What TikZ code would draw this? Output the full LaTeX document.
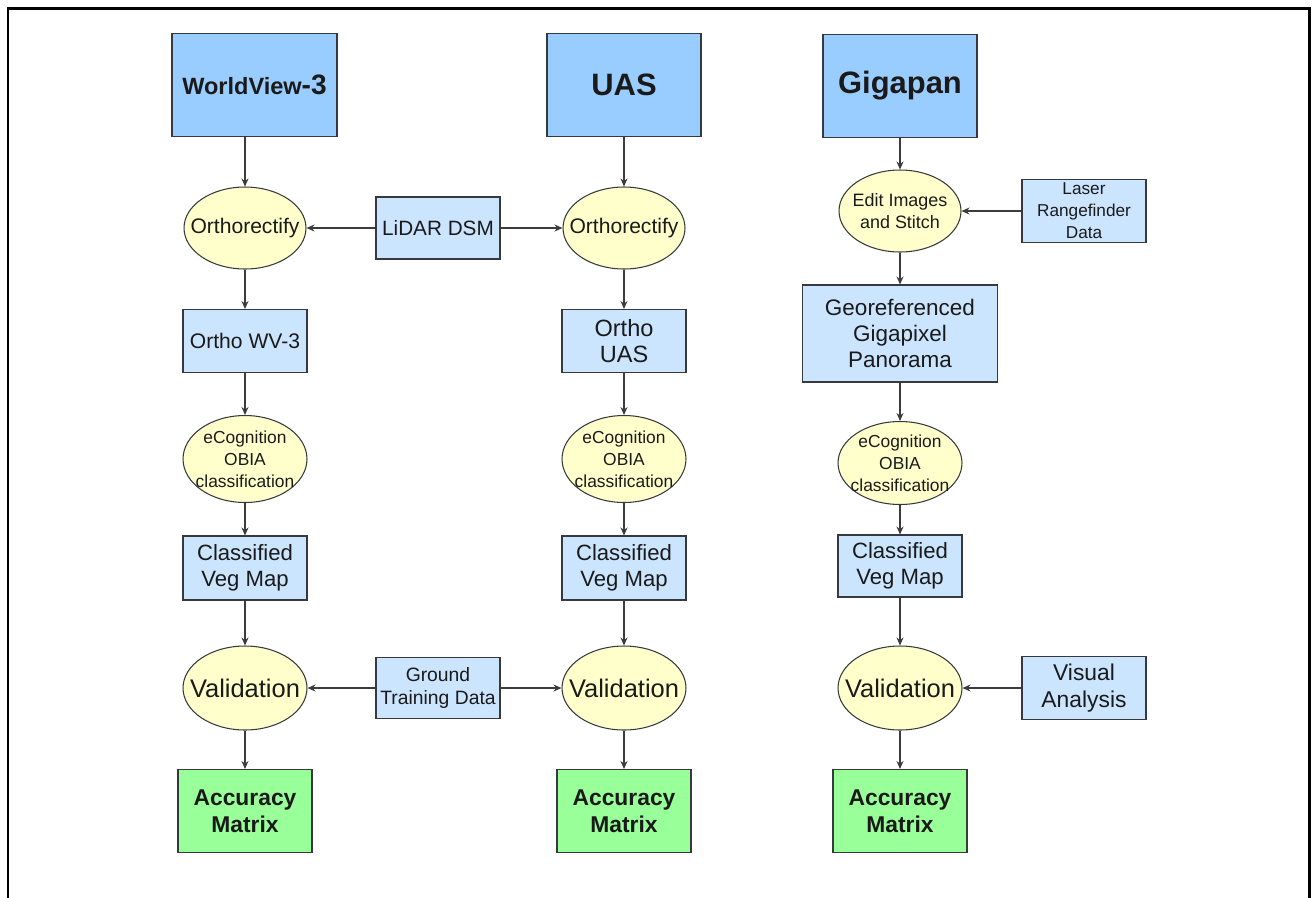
\documentclass[tikz,border=0pt]{standalone}
\usepackage{fontspec}
\setmainfont{Liberation Sans}
\usepackage{tikz}
\usetikzlibrary{arrows.meta,shapes.geometric}
\definecolor{srcBlue}{HTML}{99CCFF}
\definecolor{dataBlue}{HTML}{CCE5FF}
\definecolor{stepYellow}{HTML}{FFFFCC}
\definecolor{accGreen}{HTML}{99FF99}
\definecolor{boxLine}{HTML}{36393D}
\definecolor{flowGrey}{HTML}{3C3C3C}
\definecolor{txtDark}{HTML}{1A1A1A}
\newcommand{\fs}[2]{\fontsize{#1}{#2}\selectfont}
\tikzset{
  srcbox/.style={rectangle, draw=boxLine, fill=srcBlue, line width=0.6pt, align=center, text=txtDark, font=\bfseries\fs{17.6}{20}, minimum width=3.08cm, minimum height=2.06cm, inner sep=0pt},
  databox/.style={rectangle, draw=boxLine, fill=dataBlue, line width=0.6pt, align=center, text=txtDark, minimum width=2.48cm, minimum height=1.26cm, inner sep=0pt},
  stepell/.style={ellipse, draw=boxLine, fill=stepYellow, line width=0.6pt, align=center, text=txtDark, minimum width=2.44cm, minimum height=1.64cm, inner sep=-1cm},
  accbox/.style={rectangle, draw=boxLine, fill=accGreen, line width=0.6pt, align=center, text=txtDark, font=\bfseries\fs{13}{15.5}, minimum width=2.68cm, minimum height=1.66cm, inner sep=0pt},
  flowarrow/.style={-{Stealth[length=1.6mm,width=1.4mm]}, line width=0.7pt, draw=flowGrey},
}

\begin{document}
\begin{tikzpicture}[x=0.02cm,y=-0.02cm]
  \useasboundingbox (0,0) rectangle (1312,897);
  \draw[line width=1.7pt] (8,905) -- (8,8) -- (1309,8) -- (1309,905);

  % sources
  \node[srcbox, minimum width=3.3cm, font=\bfseries\fs{13.4}{16}] (wv) at (254.5,85) {WorldView{\fs{16}{19}-3}};
  \node[srcbox] (uas) at (624,85) {UAS};
  \node[srcbox] (giga) at (900,86) {Gigapan};

  % row 1
  \node[stepell, font=\fs{12}{14}] (or1) at (245,228) {Orthorectify};
  \node[databox, minimum height=1.24cm, font=\fs{11.8}{14}] (lidar) at (438,228) {LiDAR DSM};
  \node[stepell, font=\fs{12}{14}] (or2) at (624,228) {Orthorectify};
  \node[stepell, font=\fs{10.2}{12.5}] (edit) at (900,211) {Edit Images\\and Stitch};
  \node[databox, font=\fs{9.8}{12.5}] (laser) at (1084,211) {Laser\\Rangefinder\\Data};

  % row 2
  \node[databox, minimum height=1.26cm, font=\fs{12}{14}] (ow) at (245,341) {Ortho WV-3};
  \node[databox, minimum height=1.26cm, font=\fs{13.4}{14.8}] (ou) at (624,341) {Ortho\\UAS};
  \node[databox, minimum width=3.9cm, minimum height=1.94cm, font=\fs{12.8}{15}] (geo) at (900,333.5) {Georeferenced\\Gigapixel\\Panorama};

  % row 3
  \node[stepell, minimum width=2.48cm, minimum height=1.74cm, font=\fs{9.9}{12.5}] (ec1) at (245,459) {eCognition\\OBIA\\classification};
  \node[stepell, minimum width=2.48cm, minimum height=1.74cm, font=\fs{9.9}{12.5}] (ec2) at (624,459) {eCognition\\OBIA\\classification};
  \node[stepell, minimum width=2.48cm, minimum height=1.66cm, font=\fs{9.9}{12.5}] (ec3) at (900,463) {eCognition\\OBIA\\classification};

  % row 4
  \node[databox, minimum height=1.28cm, font=\fs{12.6}{15}] (cv1) at (245,568) {Classified\\Veg Map};
  \node[databox, minimum height=1.28cm, font=\fs{12.6}{15}] (cv2) at (624,568) {Classified\\Veg Map};
  \node[databox, minimum height=1.24cm, font=\fs{12.6}{15}] (cv3) at (900,566) {Classified\\Veg Map};

  % row 5
  \node[stepell, minimum width=2.48cm, minimum height=1.68cm, font=\fs{14.5}{17}] (va1) at (245,688) {Validation};
  \node[databox, minimum height=1.22cm, font=\fs{11}{13}] (gtd) at (438,688) {Ground\\Training Data};
  \node[stepell, minimum width=2.48cm, minimum height=1.68cm, font=\fs{14.5}{17}] (va2) at (624,688) {Validation};
  \node[stepell, minimum width=2.48cm, minimum height=1.68cm, font=\fs{14.5}{17}] (va3) at (900,688) {Validation};
  \node[databox, minimum height=1.26cm, font=\fs{13}{15}] (vis) at (1084,688) {Visual\\Analysis};

  % row 6
  \node[accbox] (acc1) at (245,811) {Accuracy\\Matrix};
  \node[accbox] (acc2) at (624,811) {Accuracy\\Matrix};
  \node[accbox] (acc3) at (900,811) {Accuracy\\Matrix};

  \draw[flowarrow] (wv.south -| or1) -- (or1);
  \foreach \a/\b in {or1/ow, ow/ec1, ec1/cv1, cv1/va1, va1/acc1,
                     uas/or2, or2/ou, ou/ec2, ec2/cv2, cv2/va2, va2/acc2,
                     giga/edit, edit/geo, geo/ec3, ec3/cv3, cv3/va3, va3/acc3,
                     lidar/or1, lidar/or2, laser/edit, gtd/va1, gtd/va2, vis/va3}
    { \draw[flowarrow] (\a) -- (\b); }
\end{tikzpicture}
\end{document}
